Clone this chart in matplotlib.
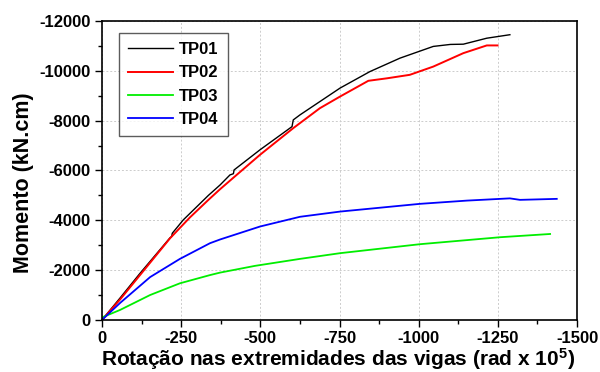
import matplotlib
matplotlib.use("Agg")
import matplotlib.pyplot as plt
from matplotlib.ticker import MultipleLocator

plt.rcParams['font.family'] = ['Liberation Sans', 'DejaVu Sans']
plt.rcParams['axes.unicode_minus'] = False
plt.rcParams['mathtext.fontset'] = 'custom'
plt.rcParams['mathtext.rm'] = 'Liberation Sans:bold'
plt.rcParams['mathtext.it'] = 'Liberation Sans:bold:italic'
plt.rcParams['mathtext.bf'] = 'Liberation Sans:bold'

tp01_x = [0, -57, -120, -215, -220, -222, -257, -336, -373, -404, -415, -417, -499, -600, -604, -625, -752, -846, -941, -1046, -1100, -1141, -1215, -1288]
tp01_y = [0, -880, -1870, -3300, -3350, -3480, -4020, -5000, -5420, -5820, -5870, -6020, -6830, -7760, -8030, -8230, -9310, -9970, -10510, -10980, -11060, -11070, -11310, -11450]

tp02_x = [0, -57, -120, -215, -278, -336, -373, -414, -499, -604, -688, -752, -841, -900, -972, -1046, -1141, -1215, -1249]
tp02_y = [0, -820, -1800, -3280, -4120, -4820, -5250, -5700, -6630, -7700, -8500, -8970, -9600, -9700, -9840, -10170, -10710, -11020, -11020]

tp03_x = [0, -57, -152, -246, -341, -373, -483, -625, -752, -1004, -1257, -1415]
tp03_y = [-100, -400, -1000, -1470, -1800, -1900, -2170, -2450, -2680, -3040, -3320, -3450]

tp04_x = [0, -57, -152, -246, -341, -373, -499, -625, -752, -1004, -1152, -1288, -1320, -1436]
tp04_y = [0, -680, -1720, -2450, -3080, -3230, -3750, -4140, -4350, -4660, -4790, -4880, -4820, -4860]

names = ['TP01', 'TP02', 'TP03', 'TP04']
colors = ['#000000', '#ff0000', '#00ee00', '#0000ff']

fig = plt.figure(figsize=(6.0, 3.72), dpi=100)
ax = fig.add_axes([0.17, 0.14, 0.7917, 0.8035])

series = [(tp01_x, tp01_y), (tp02_x, tp02_y), (tp03_x, tp03_y), (tp04_x, tp04_y)]
widths = [1.0, 1.4, 1.3, 1.3]
for (xs, ys), n, c, w in zip(series, names, colors, widths):
    ax.plot(xs, ys, color=c, lw=w, label=n)

ax.set_xlim(0, -1500)
ax.set_ylim(0, -12000)
ax.xaxis.set_major_locator(MultipleLocator(250))
ax.xaxis.set_minor_locator(MultipleLocator(125))
ax.yaxis.set_major_locator(MultipleLocator(2000))
ax.yaxis.set_minor_locator(MultipleLocator(1000))
ax.grid(True, which='major', color='#cccccc', ls=(0, (2, 2)), lw=0.7)
ax.tick_params(which='major', direction='out', length=5, width=1, labelsize=12, pad=3)
ax.tick_params(which='minor', direction='out', length=3, width=1)
for lab in ax.get_xticklabels() + ax.get_yticklabels():
    lab.set_fontweight('bold')
for s in ax.spines.values():
    s.set_linewidth(1.2)

ax.set_xlabel(r'Rotação nas extremidades das vigas (rad x 10$^{5}$)', fontsize=15, fontweight='bold')
ax.xaxis.set_label_coords(0.4958, -0.088)
ax.set_ylabel('Momento (kN.cm)', fontsize=15.5, fontweight='bold')
ax.yaxis.set_label_coords(-0.143, 0.46)

leg = ax.legend(loc='upper left', bbox_to_anchor=(0.036, 0.96), frameon=True, fancybox=False,
                edgecolor='#333333', prop={'weight': 'bold', 'size': 12}, handlelength=2.7,
                labelspacing=0.5, borderpad=0.55, handletextpad=0.35, borderaxespad=0)
leg.get_frame().set_linewidth(1.0)

fig.savefig('out.png', dpi=100)
